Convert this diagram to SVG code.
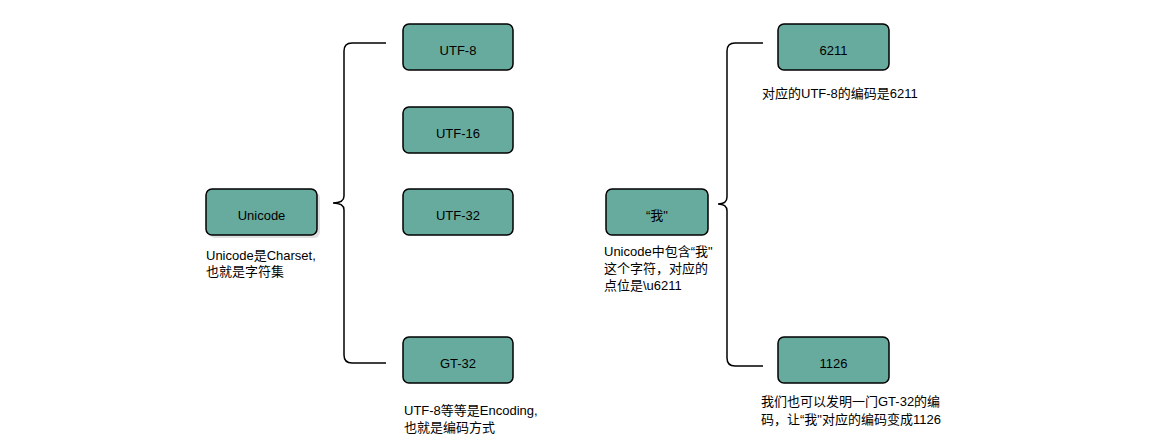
<svg xmlns="http://www.w3.org/2000/svg" width="1150" height="434" viewBox="0 0 1150 434">
<style>
  .box { fill: #67AB9F; stroke: #000; stroke-width: 1.5; }
  .shadow { fill: #000; opacity: 0.12; }
  .lbl { font-family: "Liberation Sans", "Noto Sans CJK SC", sans-serif; font-size: 13px; fill: #000; }
  .ctr { text-anchor: middle; }
  .con { fill: none; stroke: #000; stroke-width: 1.5; }
</style>
<rect width="1150" height="434" fill="#fff"/>
<g id="connectors">
  <path class="con" d="M386,43 H352 Q344,43 344,51 V196 Q344,203 333,203 Q344,203 344,210 V355 Q344,363 352,363 H386"/>
  <path class="con" d="M763,43 H735 Q727,43 727,51 V197 Q727,204 718,204 Q727,204 727,211 V358 Q727,366 735,366 H763"/>
</g>
<g id="node-unicode">
  <rect class="shadow" x="209" y="192" width="111" height="46" rx="6"/>
  <rect class="box" x="206" y="189" width="111" height="46" rx="6"/>
  <text class="lbl ctr" x="261.5" y="219.5">Unicode</text>
</g>
<g id="node-utf8">
  <rect class="box" x="403" y="24" width="110" height="46" rx="6"/>
  <text class="lbl ctr" x="458" y="54.5">UTF-8</text>
</g>
<g id="node-utf16">
  <rect class="box" x="403" y="107" width="110" height="46" rx="6"/>
  <text class="lbl ctr" x="458" y="137.5">UTF-16</text>
</g>
<g id="node-utf32">
  <rect class="box" x="403" y="189" width="110" height="46" rx="6"/>
  <text class="lbl ctr" x="458" y="219.5">UTF-32</text>
</g>
<g id="node-gt32">
  <rect class="box" x="403" y="337" width="110" height="46" rx="6"/>
  <text class="lbl ctr" x="458" y="367.5">GT-32</text>
</g>
<g id="node-wo">
  <rect class="box" x="606" y="189" width="102" height="46" rx="6"/>
  <text class="lbl ctr" x="657" y="219.5">“我"</text>
</g>
<g id="node-6211">
  <rect class="box" x="778" y="24" width="111" height="46" rx="6"/>
  <text class="lbl ctr" x="833.5" y="54.5">6211</text>
</g>
<g id="node-1126">
  <rect class="box" x="778" y="337" width="111" height="46" rx="6"/>
  <text class="lbl ctr" x="833.5" y="367.5">1126</text>
</g>
<g id="notes">
  <text class="lbl" x="206" y="260">Unicode是Charset,</text>
  <text class="lbl" x="206" y="276">也就是字符集</text>
  <text class="lbl" x="404" y="415">UTF-8等等是Encoding,</text>
  <text class="lbl" x="404" y="432">也就是编码方式</text>
  <text class="lbl" x="604" y="256">Unicode中包含“我"</text>
  <text class="lbl" x="604" y="273">这个字符，对应的</text>
  <text class="lbl" x="604" y="290">点位是\u6211</text>
  <text class="lbl" x="762" y="98">对应的UTF-8的编码是6211</text>
  <text class="lbl" x="761" y="406">我们也可以发明一门GT-32的编</text>
  <text class="lbl" x="761" y="424">码，让“我"对应的编码变成1126</text>
</g>
</svg>
